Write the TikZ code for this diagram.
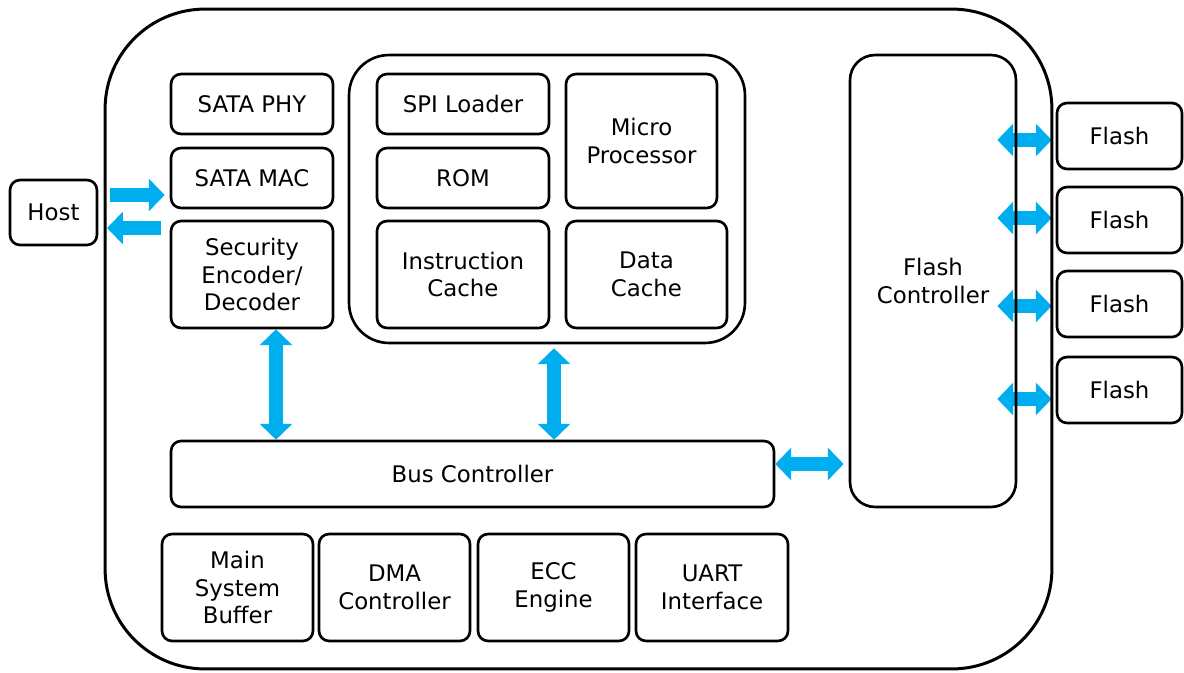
\documentclass[tikz,border=0pt]{standalone}
\usepackage{fontspec}
\setmainfont{DejaVu Sans}
\usetikzlibrary{positioning, calc, arrows.meta}
\definecolor{busblue}{RGB}{0,174,239}
\pgfdeclarelayer{bg}
\pgfsetlayers{bg,main}

\begin{document}
\begin{tikzpicture}[x=0.02cm, y=-0.02cm,
    blk/.style={draw, line width=1.5pt, rounded corners=0.2cm, align=center,
        inner sep=0pt, font=\fontsize{13}{15.8}\selectfont},
    fat/.style={draw=busblue, line width=7.5pt,
        {Triangle[width=18pt,length=9pt]}-{Triangle[width=18pt,length=9pt]}},
    one/.style={draw=busblue, line width=8.5pt, -{Triangle[width=18pt,length=9pt]}}]
    \useasboundingbox (0,0) rectangle (1184,673);

    %外枠
    \node[draw, line width=1.7pt, rounded corners=2cm, minimum width=18.94cm, minimum height=13.2cm] (chip) at (578.5,339) {};
    \node[blk, minimum width=1.74cm, minimum height=1.3cm] (host) at (53.5,212.5) {Host};

    %左の列
    \node[blk, minimum width=3.24cm, minimum height=1.2cm] (phy) at (252,104) {SATA PHY};
    \node[blk, minimum width=3.24cm, minimum height=1.2cm] (mac) at (252,178) {SATA MAC};
    \node[blk, minimum width=3.24cm, minimum height=2.14cm] (sec) at (252,274.5) {Security\\Encoder/\\Decoder};

    %CPUまわり
    \node[draw, line width=1.5pt, rounded corners=0.8cm, minimum width=7.92cm, minimum height=5.76cm] (grp) at (547,199) {};
    \node[blk, minimum width=3.44cm, minimum height=1.2cm] (spi) at (463,104) {SPI Loader};
    \node[blk, minimum width=3.44cm, minimum height=1.2cm] (rom) at (463,178) {ROM};
    \node[blk, minimum width=3.02cm, minimum height=2.68cm] (mp) at (641.5,141) {Micro\\Processor};
    \node[blk, minimum width=3.44cm, minimum height=2.14cm] (ic) at (463,274.5) {Instruction\\Cache};
    \node[blk, minimum width=3.22cm, minimum height=2.14cm] (dc) at (646.5,274.5) {Data\\Cache};

    %バスと下の列
    \node[blk, minimum width=12.06cm, minimum height=1.32cm] (bus) at (472.5,474) {Bus Controller};
    \node[blk, minimum width=3.02cm, minimum height=2.14cm] (msb) at (237.5,587.5) {Main\\System\\Buffer};
    \node[blk, minimum width=3.02cm, minimum height=2.14cm] (dma) at (394.5,587.5) {DMA\\Controller};
    \node[blk, minimum width=3.02cm, minimum height=2.14cm] (ecc) at (553.5,587.5) {ECC\\Engine};
    \node[blk, minimum width=3.04cm, minimum height=2.14cm] (uart) at (712,587.5) {UART\\Interface};

    %フラッシュ
    \node[blk, rounded corners=0.5cm, minimum width=3.32cm, minimum height=9.04cm] (fc) at (933,281) {Flash\\Controller};
    \foreach \i/\y in {1/136, 2/220, 3/304, 4/390}
        \node[blk, minimum width=2.5cm, minimum height=1.32cm] (fl\i) at (1119.5,\y) {Flash};

    %矢印を書く
    \coordinate (h1) at (110,195);
    \coordinate (h2) at (107,228);
    \coordinate (v1) at (276,0);
    \coordinate (v2) at (554,0);
    \coordinate (v3) at (0,464);
    \begin{pgfonlayer}{bg}
        \draw[one, shorten >=0.1cm] (h1) -- (h1 -| mac.west);
        \draw[one, shorten <=0.18cm] (h2 -| sec.west) -- (h2);
        \draw[fat] (sec.south -| v1) -- (bus.north -| v1);
        \draw[fat] ([yshift=-0.08cm]grp.south -| v2) -- (bus.north -| v2);
        \draw[fat] (bus.east |- v3) -- ([xshift=-0.1cm]fc.west |- v3);
        \foreach \i/\d in {1/-0.08, 2/0.04, 3/-0.04, 4/-0.18}
            \draw[fat] ([xshift=-0.4cm, yshift=\d cm]fc.east |- fl\i.west) -- ([xshift=-0.08cm, yshift=\d cm]fl\i.west);
    \end{pgfonlayer}
\end{tikzpicture}
\end{document}
